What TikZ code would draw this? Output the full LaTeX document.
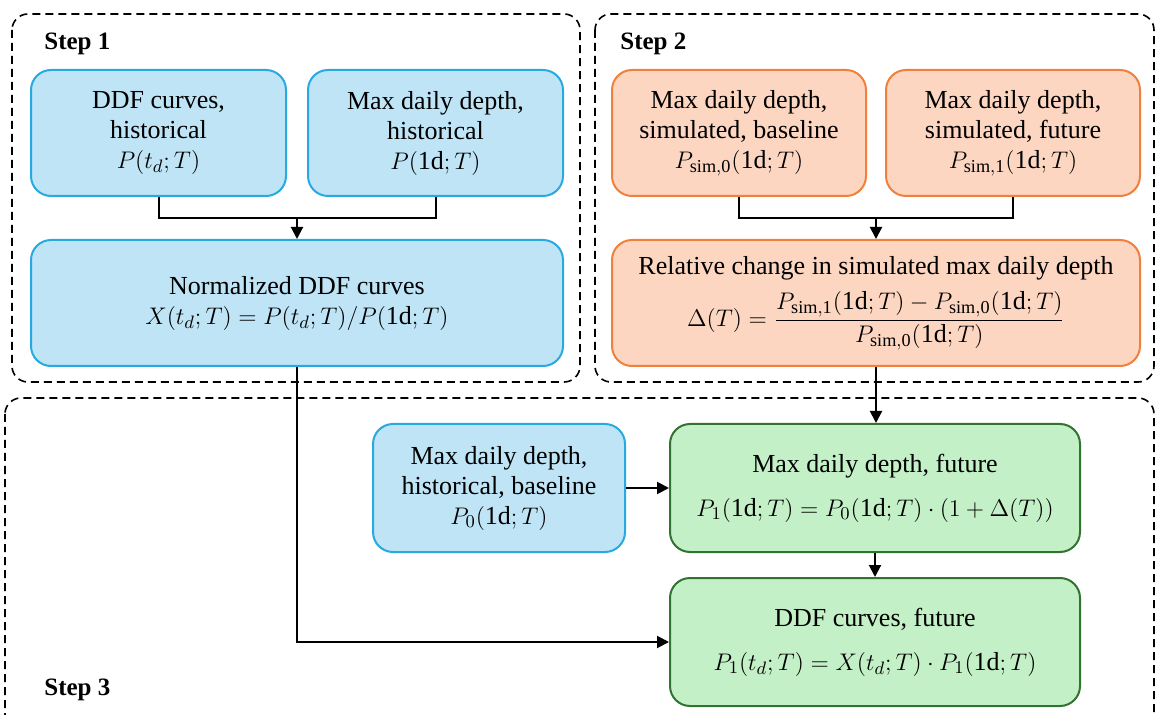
\documentclass[tikz,border=0pt]{standalone}
\usepackage{fontspec}
\setmainfont{Liberation Serif}
\usetikzlibrary{arrows.meta}
\definecolor{bluefill}{RGB}{190,228,246}
\definecolor{blueline}{RGB}{40,170,225}
\definecolor{orfill}{RGB}{252,214,193}
\definecolor{orline}{RGB}{240,128,60}
\definecolor{grfill}{RGB}{196,240,200}
\definecolor{grline}{RGB}{50,115,50}
\begin{document}
\begin{tikzpicture}[x=0.5pt,y=-0.5pt, font=\fontsize{13}{15}\selectfont,
 box/.style={rounded corners=10pt, line width=1pt, align=center, inner sep=0pt},
 bluebox/.style={box, draw=blueline, fill=bluefill},
 orbox/.style={box, draw=orline, fill=orfill},
 grbox/.style={box, draw=grline, fill=grfill},
 stepframe/.style={draw, line width=0.8pt, rounded corners=8pt, dash pattern=on 4pt off 2.5pt},
 steplabel/.style={font=\fontsize{12.5}{14}\selectfont\bfseries, anchor=west, inner sep=0pt},
 conn/.style={line width=1pt},
 arr/.style={conn,-{Triangle[length=6pt,width=6pt]}}]
\useasboundingbox (0,0) rectangle (1155,715);
\fill[white] (0,0) rectangle (1155,715);
% frames
\draw[stepframe] (12,14) rectangle (580,382);
\draw[stepframe] (595,14) rectangle (1154,382);
\draw[stepframe] (5,398) rectangle (1154,730);
\node[steplabel] (s1) at (44,44) {Step 1};
\node[steplabel] (s2) at (620,44) {Step 2};
\node[steplabel] (s3) at (44,690) {Step 3};
% step 1
\node[bluebox, minimum width=127.5pt, minimum height=63pt] (A) at (158.5,133) {DDF curves,\\historical\\$P(t_d;T)$};
\node[bluebox, minimum width=127.5pt, minimum height=63pt] (B) at (435.5,133) {Max daily depth,\\historical\\$P(\mathrm{1d};T)$};
\node[bluebox, minimum width=266pt, minimum height=63pt] (C) at (297,303) {Normalized DDF curves\\$X(t_d;T)=P(t_d;T)/P(\mathrm{1d};T)$};
% step 2
\node[orbox, minimum width=127pt, minimum height=63pt] (D) at (739,133) {Max daily depth,\\simulated, baseline\\$P_{\mathrm{sim,0}}(\mathrm{1d};T)$};
\node[orbox, minimum width=127pt, minimum height=63pt] (E) at (1013,133) {Max daily depth,\\simulated, future\\$P_{\mathrm{sim,1}}(\mathrm{1d};T)$};
\node[orbox, minimum width=264pt, minimum height=63pt] (F) at (876,303) {Relative change in simulated max daily depth\\[5pt]$\displaystyle \Delta(T)=\frac{P_{\mathrm{sim,1}}(\mathrm{1d};T)-P_{\mathrm{sim,0}}(\mathrm{1d};T)}{P_{\mathrm{sim,0}}(\mathrm{1d};T)}$};
% step 3
\node[bluebox, minimum width=126pt, minimum height=64pt] (G) at (499,488) {Max daily depth,\\historical, baseline\\$P_0(\mathrm{1d};T)$};
\node[grbox, minimum width=205pt, minimum height=64pt] (H) at (875,488) {Max daily depth, future\\[7pt]$P_1(\mathrm{1d};T)=P_0(\mathrm{1d};T)\cdot(1+\Delta(T))$};
\node[grbox, minimum width=205pt, minimum height=64pt] (I) at (875,642) {DDF curves, future\\[7pt]$P_1(t_d;T)=X(t_d;T)\cdot P_1(\mathrm{1d};T)$};
% connectors
\coordinate (j1) at (297,218);
\coordinate (j2) at (876,218);
\draw[conn] (A.south) -- (A.south |- j1) -- (B.south |- j1) -- (B.south);
\draw[arr] (j1) -- (C.north);
\draw[conn] (D.south) -- (D.south |- j2) -- (E.south |- j2) -- (E.south);
\draw[arr] (j2) -- (F.north);
\draw[arr] (F.south) -- (F.south |- H.north);
\draw[arr] (G.east) -- (H.west);
\draw[arr] (H.south) -- (I.north);
\draw[arr] (C.south) |- (I.west);
\end{tikzpicture}
\end{document}
